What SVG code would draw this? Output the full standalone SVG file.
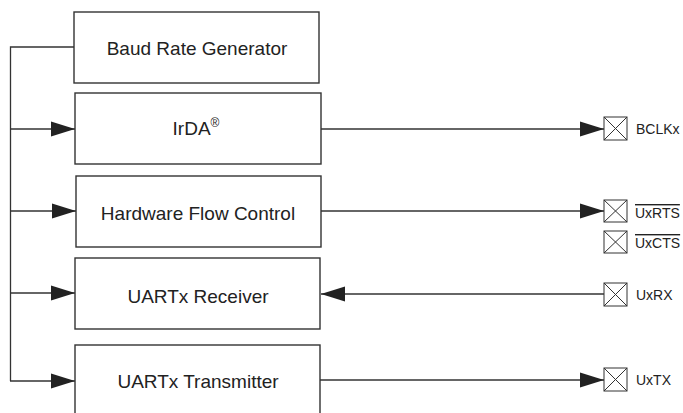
<svg xmlns="http://www.w3.org/2000/svg" width="683" height="413" viewBox="0 0 683 413">
<style>
.box{fill:#fff;stroke:#333;stroke-width:1.4}
.lbl{font-family:"Liberation Sans",Arial,sans-serif;font-size:19px;fill:#222;text-anchor:middle}
.pinl{font-family:"Liberation Sans",Arial,sans-serif;font-size:14px;fill:#222}
.ln{fill:none;stroke:#333;stroke-width:1.3}
.pin{fill:#fff;stroke:#333;stroke-width:1}
</style>
<defs>
<marker id="ah" markerUnits="userSpaceOnUse" markerWidth="24" markerHeight="16" refX="24" refY="8" orient="auto">
<polygon points="0,0.5 24,8 0,15.5" fill="#222"/>
</marker>
</defs>
<g id="connectors">
<polyline class="ln" points="74,47 10.5,47 10.5,381"/>
<line class="ln" x1="10" y1="129" x2="75" y2="129" marker-end="url(#ah)"/>
<line class="ln" x1="10" y1="211" x2="76" y2="211" marker-end="url(#ah)"/>
<line class="ln" x1="10" y1="293" x2="75" y2="293" marker-end="url(#ah)"/>
<line class="ln" x1="10" y1="381" x2="75" y2="381" marker-end="url(#ah)"/>
<line class="ln" x1="321" y1="129" x2="604" y2="129" marker-end="url(#ah)"/>
<line class="ln" x1="321" y1="211" x2="604" y2="211" marker-end="url(#ah)"/>
<line class="ln" x1="604" y1="294" x2="321" y2="294" marker-end="url(#ah)"/>
<line class="ln" x1="320" y1="380" x2="604" y2="380" marker-end="url(#ah)"/>
</g>
<g id="baud">
<rect class="box" x="74" y="12" width="245" height="71"/>
<text class="lbl" x="197" y="54.5">Baud Rate Generator</text>
</g>
<g id="irda">
<rect class="box" x="75" y="93" width="246" height="71"/>
<text class="lbl" x="196" y="135">IrDA<tspan font-size="12" dy="-8">®</tspan></text>
</g>
<g id="hfc">
<rect class="box" x="76" y="176" width="245" height="71"/>
<text class="lbl" x="198" y="220">Hardware Flow Control</text>
</g>
<g id="receiver">
<rect class="box" x="75" y="258" width="245" height="71"/>
<text class="lbl" x="198" y="303">UARTx Receiver</text>
</g>
<g id="transmitter">
<rect class="box" x="75" y="345" width="245" height="80"/>
<text class="lbl" x="198" y="388">UARTx Transmitter</text>
</g>
<g id="pin-bclk">
<rect class="pin" x="604" y="117" width="23" height="23"/>
<path class="pin" d="M604,117L627,140M627,117L604,140"/>
<text class="pinl" x="636" y="134">BCLKx</text>
</g>
<g id="pin-rts">
<rect class="pin" x="604" y="200" width="23" height="22"/>
<path class="pin" d="M604,200L627,222M627,200L604,222"/>
<text class="pinl" x="635" y="218" text-decoration="overline">UxRTS</text>
</g>
<g id="pin-cts">
<rect class="pin" x="604" y="231" width="23" height="22"/>
<path class="pin" d="M604,231L627,253M627,231L604,253"/>
<text class="pinl" x="635" y="248" text-decoration="overline">UxCTS</text>
</g>
<g id="pin-rx">
<rect class="pin" x="604" y="283" width="23" height="23"/>
<path class="pin" d="M604,283L627,306M627,283L604,306"/>
<text class="pinl" x="636" y="299.5">UxRX</text>
</g>
<g id="pin-tx">
<rect class="pin" x="604" y="368" width="23" height="23"/>
<path class="pin" d="M604,368L627,391M627,368L604,391"/>
<text class="pinl" x="636" y="384.5">UxTX</text>
</g>
</svg>
